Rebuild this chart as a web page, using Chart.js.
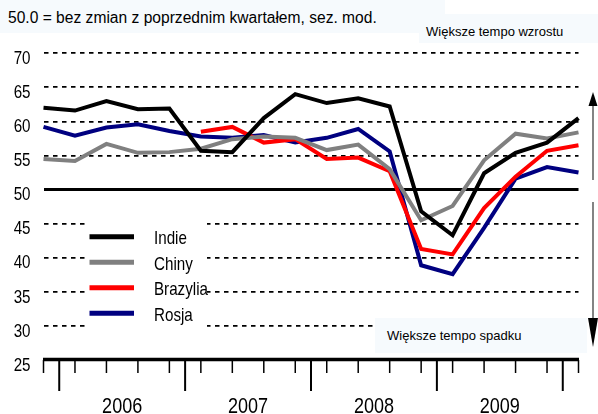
<!DOCTYPE html>
<html>
<head>
<meta charset="utf-8">
<script src="https://cdn.jsdelivr.net/npm/chart.js@4.4.0/dist/chart.umd.min.js"></script>
<style>
  body { margin: 0; background: #fff; }
  #wrap { position: relative; width: 598px; height: 414px; }
  #c { display: block; }
  .note {
    position: absolute; box-sizing: border-box; background: #f6fafd; color: #000;
    font-family: 'Liberation Sans', Arial, sans-serif; white-space: nowrap;
  }
</style>
</head>
<body>
<div id="wrap">
  <canvas id="c" width="598" height="414"></canvas>
  <div class="note" style="left:0;top:0;width:445px;height:33px;padding:9px 0 0 8px;font-size:15.6px;line-height:17px;">50.0 = bez zmian z poprzednim kwartałem, sez. mod.</div>
  <div class="note" style="left:419px;top:14px;width:179px;height:29px;padding:10px 0 0 7px;font-size:13px;line-height:15px;">Większe tempo wzrostu</div>
  <div class="note" style="left:375px;top:318px;width:212px;height:35px;padding:10px 0 0 12px;font-size:13px;line-height:15px;">Większe tempo spadku</div>
</div>
<script>
// kwartały od IV 2005 do I 2010
const quarters = ['IV 05','I 06','II 06','III 06','IV 06','I 07','II 07','III 07','IV 07',
                  'I 08','II 08','III 08','IV 08','I 09','II 09','III 09','IV 09','I 10'];
const years = ['2006', '2007', '2008', '2009'];
const yTicks = [25, 30, 35, 40, 45, 50, 55, 60, 65, 70];

const indie    = [62.0, 61.6, 63.0, 61.8, 61.9, 55.7, 55.5, 60.5, 64.0, 62.7, 63.4, 62.2, 46.8, 43.3, 52.4, 55.4, 56.9, 60.5];
const chiny    = [54.5, 54.2, 56.7, 55.4, 55.5, 56.0, 57.4, 57.8, 57.6, 55.8, 56.6, 53.0, 45.5, 47.6, 54.3, 58.2, 57.5, 58.4];
const brazylia = [null, null, null, null, null, 58.5, 59.2, 56.9, 57.4, 54.5, 54.7, 52.7, 41.3, 40.5, 47.3, 51.9, 55.7, 56.5];
const rosja    = [59.2, 57.9, 59.1, 59.6, 58.6, 57.8, 57.6, 58.0, 56.9, 57.6, 58.9, 55.6, 38.9, 37.6, 44.4, 51.6, 53.3, 52.5];

const names = ['Indie', 'Chiny', 'Brazylia', 'Rosja'];
const colors = ['#000000', '#808080', '#ff0000', '#000080'];
const series = [indie, chiny, brazylia, rosja];

// wąski krój (jak Arial Narrow) - zwykły Arial ściśnięty w poziomie
function narrowText(c, text, x, y, size, align) {
  c.save();
  c.translate(x, y);
  c.scale(0.82, 1);
  c.font = size + 'px "Liberation Sans", Arial, sans-serif';
  c.textAlign = align;
  c.textBaseline = 'alphabetic';
  c.fillStyle = '#000';
  c.fillText(text, 0, 0);
  c.restore();
}

const decor = {
  id: 'decor',
  afterDatasetsDraw(chart) {
    const c = chart.ctx;
    const area = chart.chartArea;
    const x = chart.scales.x;
    const y = chart.scales.y;

    // etykiety osi Y
    yTicks.forEach(v => narrowText(c, String(v), 30.5, y.getPixelForValue(v) + 10.7, 18.5, 'right'));

    // legenda na białym tle
    c.save();
    c.fillStyle = '#fff';
    c.fillRect(87, 213, 120, 118);
    chart.data.datasets.forEach((ds, i) => {
      const ly = 236.7 + i * 25.5;
      c.strokeStyle = ds.borderColor;
      c.lineWidth = 5;
      c.beginPath();
      c.moveTo(89.5, ly);
      c.lineTo(134, ly);
      c.stroke();
      narrowText(c, ds.label, 154, ly + 7.3, 18.5, 'left');
    });
    c.restore();

    // oś X
    c.save();
    c.strokeStyle = '#000';
    c.lineWidth = 3.5;
    c.beginPath();
    c.moveTo(area.left - 0.5, area.bottom - 0.5);
    c.lineTo(area.right + 0.5, area.bottom - 0.5);
    c.stroke();
    c.lineWidth = 1.5;
    quarters.forEach((q, i) => {
      const px = x.getPixelForValue(i);
      c.beginPath();
      c.moveTo(px, area.bottom);
      c.lineTo(px, area.bottom + 13);
      c.stroke();
    });
    c.lineWidth = 2;
    for (let k = 0; k <= years.length; k++) {
      const px = x.getPixelForValue(0.5 + 4 * k);
      c.beginPath();
      c.moveTo(px, area.bottom);
      c.lineTo(px, area.bottom + 31);
      c.stroke();
    }
    years.forEach((yr, k) => narrowText(c, yr, x.getPixelForValue(2.5 + 4 * k), 412.5, 22, 'center'));

    // strzałki po prawej
    const ax = 593;
    c.strokeStyle = '#333';
    c.lineWidth = 1.2;
    c.beginPath();
    c.moveTo(ax, 104); c.lineTo(ax, 180);
    c.moveTo(ax, 202); c.lineTo(ax, 320);
    c.stroke();
    c.fillStyle = '#000';
    c.beginPath();
    c.moveTo(ax, 92); c.lineTo(ax - 4.5, 106); c.lineTo(ax + 4.5, 106); c.closePath();
    c.fill();
    c.beginPath();
    c.moveTo(ax, 347); c.lineTo(ax - 5, 318); c.lineTo(ax + 5, 318); c.closePath();
    c.fill();
    c.restore();
  }
};

new Chart(document.getElementById('c'), {
  type: 'line',
  data: {
    labels: quarters,
    datasets: series.map((d, i) => ({
      label: names[i],
      data: d,
      borderColor: colors[i],
      backgroundColor: colors[i],
      borderWidth: 4,
      pointRadius: 0,
      tension: 0,
      fill: false,
      spanGaps: false
    }))
  },
  options: {
    responsive: false,
    animation: false,
    events: [],
    layout: { padding: { left: 0, right: 19.5, top: 53.3, bottom: 54 } },
    plugins: { legend: { display: false }, tooltip: { enabled: false } },
    scales: {
      x: { display: false, offset: false },
      y: {
        min: 25,
        max: 70,
        afterFit(scale) { scale.width = 43.5; },
        afterBuildTicks(scale) { scale.ticks = yTicks.map(v => ({ value: v })); },
        ticks: { display: false },
        grid: {
          drawTicks: false,
          color: ctx => (ctx.tick && ctx.tick.value === 25) ? 'rgba(0,0,0,0)' : '#000',
          lineWidth: ctx => (ctx.tick && ctx.tick.value === 50) ? 3 : 1.8
        },
        border: {
          display: false,
          dash: ctx => (ctx.tick && ctx.tick.value === 50) ? [] : [4.5, 4.5]
        }
      }
    }
  },
  plugins: [decor]
});
</script>
</body>
</html>
